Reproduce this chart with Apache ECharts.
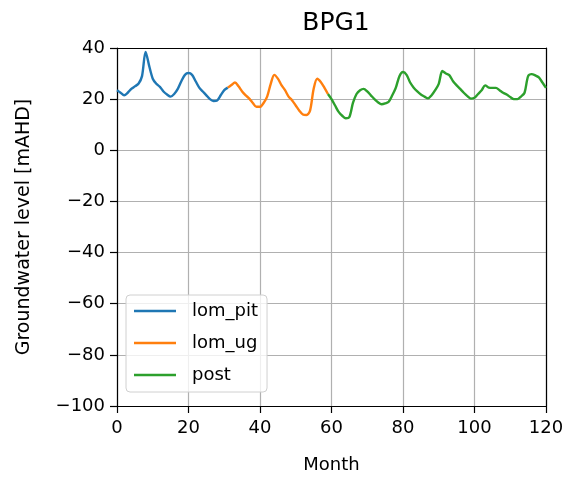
<!DOCTYPE html>
<html>
<head>
<meta charset="utf-8">
<script src="https://cdn.jsdelivr.net/npm/echarts@6/dist/echarts.min.js"></script>
<style>html,body{margin:0;padding:0;background:#fff;}#c{width:567px;height:479px;}</style>
</head>
<body>
<div id="c"></div>
<script>
var title = 'BPG1';
var xName = 'Month';
var yName = 'Groundwater level [mAHD]';
var seriesNames = ['lom_pit', 'lom_ug', 'post'];
var xTicks = [0, 20, 40, 60, 80, 100, 120];
var yTicks = [-100, -80, -60, -40, -20, 0, 20, 40];

var lomPitStart = 0;
var lomPit = [23.5, 22.5, 21.5, 22.5, 24, 25, 26, 29, 38.5, 33, 28, 26, 24.8, 23, 21.8, 21,
  22, 24, 27, 29.5, 30.2, 29.5, 27, 24.5, 23, 21.5, 20, 19.3, 19.5, 21.5, 23.5, 24.5];

var lomUgStart = 31;
var lomUg = [24.5, 25.5, 26.5, 25, 23, 21.5, 20.2, 18.5, 17, 17, 18.5, 21, 26, 29.5, 28,
  25.5, 23.5, 21, 19.5, 17.5, 15.5, 14, 13.8, 15.5, 24, 28, 26.7, 24.5, 22];

var postStart = 59;
var post = [22, 20, 17.5, 15, 13.5, 12.5, 13, 18.5, 22, 23.5, 24, 23, 21.5, 20, 18.8, 18,
  18.3, 19, 21.5, 24.5, 29, 30.6, 29.5, 26.5, 24.5, 23, 21.8, 21, 20.3, 21.5, 23.5, 26,
  31, 30, 29.3, 27, 25.4, 24, 22.5, 21.2, 20.2, 20.5, 22, 23.5, 25.4, 24.5, 24.4, 24.4,
  23.5, 22.5, 21.8, 20.8, 20, 20, 21, 22.5, 29, 29.8, 29.3, 28.5, 26.5, 24.4];

var colors = ['#1f77b4', '#ff7f0e', '#2ca02c'];

function pairs(start, vals) {
  return vals.map(function (v, i) { return [start + i, v]; });
}

var chart = echarts.init(document.getElementById('c'), null, {renderer: 'canvas'});
var font = 'DejaVu Sans';
var frameAxis = {
  axisLine: {show: true, onZero: false, lineStyle: {color: '#000', width: 1.2}},
  axisTick: {show: false}, axisLabel: {show: false}, splitLine: {show: false}
};
chart.setOption({
  animation: false,
  backgroundColor: '#fff',
  title: {
    text: title, left: 331, top: 6, textAlign: 'center',
    textStyle: {fontFamily: font, fontSize: 25, fontWeight: 'normal', color: '#000'}
  },
  grid: {left: 117, right: 21, top: 48, bottom: 72},
  legend: {
    orient: 'vertical', left: 126, top: 295,
    data: seriesNames.map(function (n) { return {name: n, icon: 'rect'}; }),
    itemWidth: 42, itemHeight: 2.5, itemGap: 14,
    padding: [7, 9, 8, 8],
    borderColor: '#d0d0d0', borderWidth: 1, borderRadius: 4, backgroundColor: 'rgba(255,255,255,0.8)',
    textStyle: {fontFamily: font, fontSize: 18, color: '#000', lineHeight: 18, padding: [0, 0, 0, 11]}
  },
  xAxis: [{
    type: 'value', min: xTicks[0], max: xTicks[xTicks.length - 1], interval: 20,
    name: xName, nameLocation: 'middle', nameGap: 50,
    nameTextStyle: {fontFamily: font, fontSize: 18, color: '#000'},
    axisLine: {onZero: false, lineStyle: {color: '#000', width: 1.2}},
    axisTick: {show: true, length: 7, lineStyle: {color: '#000', width: 1.2}},
    axisLabel: {fontFamily: font, fontSize: 18, color: '#000', margin: 13},
    splitLine: {show: true, lineStyle: {color: '#b0b0b0', width: 1.2}}
  }, Object.assign({type: 'value', position: 'top', min: xTicks[0], max: xTicks[xTicks.length - 1], interval: 20}, frameAxis)],
  yAxis: [{
    type: 'value', min: yTicks[0], max: yTicks[yTicks.length - 1], interval: 20,
    name: yName, nameLocation: 'middle', nameGap: 83, nameRotate: 90,
    nameTextStyle: {fontFamily: font, fontSize: 19, color: '#000'},
    axisLine: {onZero: false, lineStyle: {color: '#000', width: 1.2}},
    axisTick: {show: true, length: 7, lineStyle: {color: '#000', width: 1.2}},
    axisLabel: {fontFamily: font, fontSize: 18, color: '#000', margin: 12,
      formatter: function (v) { return v < 0 ? '\u2212' + Math.abs(v) : String(v); }},
    splitLine: {show: true, lineStyle: {color: '#b0b0b0', width: 1.2}}
  }, Object.assign({type: 'value', position: 'right', min: yTicks[0], max: yTicks[yTicks.length - 1], interval: 20}, frameAxis)],
  series: [
    {name: seriesNames[0], type: 'line', data: pairs(lomPitStart, lomPit), showSymbol: false, smooth: 0.3,
      lineStyle: {color: colors[0], width: 2.4}, itemStyle: {color: colors[0]}},
    {name: seriesNames[1], type: 'line', data: pairs(lomUgStart, lomUg), showSymbol: false, smooth: 0.3,
      lineStyle: {color: colors[1], width: 2.4}, itemStyle: {color: colors[1]}},
    {name: seriesNames[2], type: 'line', data: pairs(postStart, post), showSymbol: false, smooth: 0.3,
      lineStyle: {color: colors[2], width: 2.4}, itemStyle: {color: colors[2]}}
  ]
});
</script>
</body>
</html>
